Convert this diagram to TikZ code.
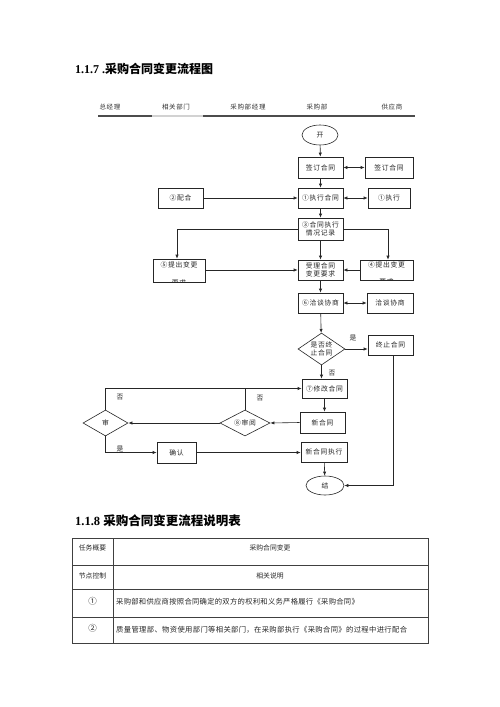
\documentclass[tikz,border=0pt]{standalone}
\usepackage{fontspec}
\setmainfont{Liberation Serif}
\newfontfamily\cjk{Noto Sans CJK SC}
\newfontfamily\cjks[LetterSpace=10]{Noto Sans CJK SC}
\usetikzlibrary{arrows.meta,shapes.geometric}
\tikzset{
  box/.style={draw=black!85, line width=0.6pt, inner sep=0pt, align=center,
    font=\cjks\fontsize{6.8}{8.5}\selectfont, text=black!85},
  oval/.style={box, ellipse},
  dia/.style={box, diamond},
  lbl/.style={inner sep=0pt, font=\cjk\fontsize{6.8}{8}\selectfont, text=black!85},
  hdr/.style={inner sep=0pt, font=\cjks\fontsize{6.5}{8}\selectfont, text=black!80},
  conn/.style={draw=black!85, line width=0.6pt},
  arr/.style={conn, -{Latex[length=4pt,width=3.2pt]}},
  darr/.style={conn, {Latex[length=4pt,width=3.2pt]}-{Latex[length=4pt,width=3.2pt]}},
  tline/.style={draw=black!75, line width=0.6pt},
  tcell/.style={inner sep=0pt, font=\cjk\fontsize{6.8}{8}\selectfont, text=black!85},
  ttext/.style={inner sep=0pt, anchor=west, text=black!85},
}
\begin{document}
\begin{tikzpicture}[x=1pt,y=-1pt]
\useasboundingbox[fill=white] (0,0) rectangle (500,707);

% title
\node[anchor=west, inner sep=0pt] (t1) at (75,69) {\fontsize{12}{14}\selectfont\bfseries 1.1.7 .\cjk\bfseries 采购合同变更流程图};

% header
\node[hdr] (h1) at (110,107) {总经理};
\node[hdr] (h2) at (176,107) {相关部门};
\node[hdr] (h3) at (248,107) {采购部经理};
\node[hdr] (h4) at (317,107) {采购部};
\node[hdr] (h5) at (392,107) {供应商};
\draw[gray!60!black, line width=1.3pt] (98,116) -- (152,116);
\draw[gray!35, line width=1.3pt] (152,116) -- (203,116);
\draw[gray!60!black, line width=1.3pt] (203,116) -- (415,116);

% nodes
\node[oval, minimum width=36, minimum height=20] (kai) at (320,135) {开};
\node[box, minimum width=45, minimum height=21] (qd1) at (320.5,167.5) {签订合同};
\node[box, minimum width=48, minimum height=21] (qd2) at (389,167.5) {签订合同};
\node[box, minimum width=45, minimum height=20] (pk) at (180.5,198) {②配合};
\node[box, minimum width=45, minimum height=20] (zx) at (320.5,198) {①执行合同};
\node[box, minimum width=42, minimum height=20] (zx2) at (389,198) {①执行};
\node[box, minimum width=45, minimum height=22] (jl) at (320.5,229) {③合同执行\\情况记录};

% clipped boxes 5 and 4
\begin{scope}
  \clip (153,259) rectangle (205,282);
  \node[box, draw=none, anchor=north] (t5b) at (179,261.5) {⑤提出变更\\[9.5pt]要求};
\end{scope}
\node[box, minimum width=52, minimum height=23] (s5) at (179,270.5) {};
\begin{scope}
  \clip (360,260) rectangle (413,280);
  \node[box, draw=none, anchor=north] (t4b) at (386.5,261.5) {④提出变更\\[8pt]要求};
\end{scope}
\node[box, minimum width=53, minimum height=20] (s4) at (386.5,270) {};

\node[box, minimum width=45, minimum height=20] (sl) at (320.5,270) {受理合同\\变更要求};
\node[box, minimum width=45, minimum height=20] (s6) at (320.5,303) {⑥洽谈协商};
\node[box, minimum width=46, minimum height=20] (qt) at (390,303) {洽谈协商};
\node[dia, aspect=1.47, minimum width=47, minimum height=32] (dz) at (321.5,349) {是否终\\止合同};
\node[box, minimum width=45, minimum height=20] (zz) at (390.5,345) {终止合同};
\node[box, minimum width=45, minimum height=19] (s7) at (324.5,388.5) {⑦修改合同};
\node[box, minimum width=45, minimum height=21] (xht) at (322.5,422.5) {新合同};
\node[dia, aspect=1.9, minimum width=50, minimum height=26] (s8) at (245,423) {⑧审阅};
\node[dia, aspect=1.7, minimum width=45, minimum height=26] (shen) at (105.5,423) {审};
\node[box, minimum width=39, minimum height=21] (qr) at (176.5,452.5) {确认};
\node[box, minimum width=46, minimum height=20] (xzx) at (324,452) {新合同执行};
\node[oval, minimum width=38, minimum height=19] (jie) at (325,485.5) {结};

% connectors
\draw[arr] (kai) -- (qd1);
\draw[darr] (qd1) -- (qd2);
\draw[arr] (qd1) -- (zx);
\draw[arr] (pk) -- (zx);
\draw[darr] (zx) -- (zx2);
\draw[arr] (zx) -- (jl);
\draw[arr] (jl.west) -| (s5.north -| 177,0);
\draw[arr] (jl.east) -| (s4.north -| 388,0);
\draw[arr] (jl) -- (sl);
\draw[arr] (s5.east |- sl.west) -- (sl.west);
\draw[arr] (s4.west) -- (sl.east);
\draw[arr] (sl) -- (s6);
\draw[darr] (s6) -- (qt);
\draw[arr] (s6) -- (dz);
\draw[arr] (dz.east) -- (zz.west |- dz.east);
\node[lbl] (ls) at (353,338) {是};
\draw[arr] (dz.south) -- (dz.south |- s7.north);
\node[lbl] (lf) at (332,373) {否};
\draw[arr] (s7) -- (s7 |- xht.north);
\draw[arr] (xht.west) -- (s8.east);
\draw[arr] (s8.west) -- (shen.east);
\draw[arr] (shen.north) |- (s7.west);
\draw[conn] (s8.north) -- (s8.north |- s7.west);
\node[lbl] (lf1) at (120,397) {否};
\node[lbl] (lf2) at (260,398) {否};
\draw[arr] (shen.south) |- (qr.west);
\node[lbl] (ls2) at (120,449) {是};
\draw[arr] (qr.east) -- (xzx.west |- qr.east);
\draw[arr] (xzx) -- (jie);
\draw[arr] (zz.south -| 393,0) |- (jie.east);

% table title
\node[anchor=west, inner sep=0pt] (t2) at (75,521) {\fontsize{12.5}{14}\selectfont\bfseries 1.1.8 \cjk\bfseries 采购合同变更流程说明表};

% table
\draw[tline] (72,538) rectangle (428,643);
\draw[tline] (113,538) -- (113,643);
\draw[tline] (72,565) -- (428,565);
\draw[tline] (72,589) -- (428,589);
\draw[tline] (72,617) -- (428,617);

\node[tcell] (c11) at (92.5,548) {任务概要};
\node[tcell] (c12) at (270,548) {采购合同变更};
\node[tcell] (c21) at (92.5,576) {节点控制};
\node[tcell] (c22) at (270,576) {相关说明};
\node[tcell, font=\cjk\fontsize{8.5}{9}\selectfont] (c31) at (92.5,601) {①};
\node[ttext, font=\cjk\addfontfeature{LetterSpace=4}\fontsize{7.3}{9}\selectfont] (c32) at (116,602) {采购部和供应商按照合同确定的双方的权利和义务严格履行《采购合同》};
\node[tcell, font=\cjk\fontsize{8.5}{9}\selectfont] (c41) at (92.5,628) {②};
\node[ttext, font=\cjk\addfontfeature{LetterSpace=5}\fontsize{7.3}{9}\selectfont] (c42) at (116,630) {质量管理部、物资使用部门等相关部门，在采购部执行《采购合同》的过程中进行配合};
\end{tikzpicture}
\end{document}
